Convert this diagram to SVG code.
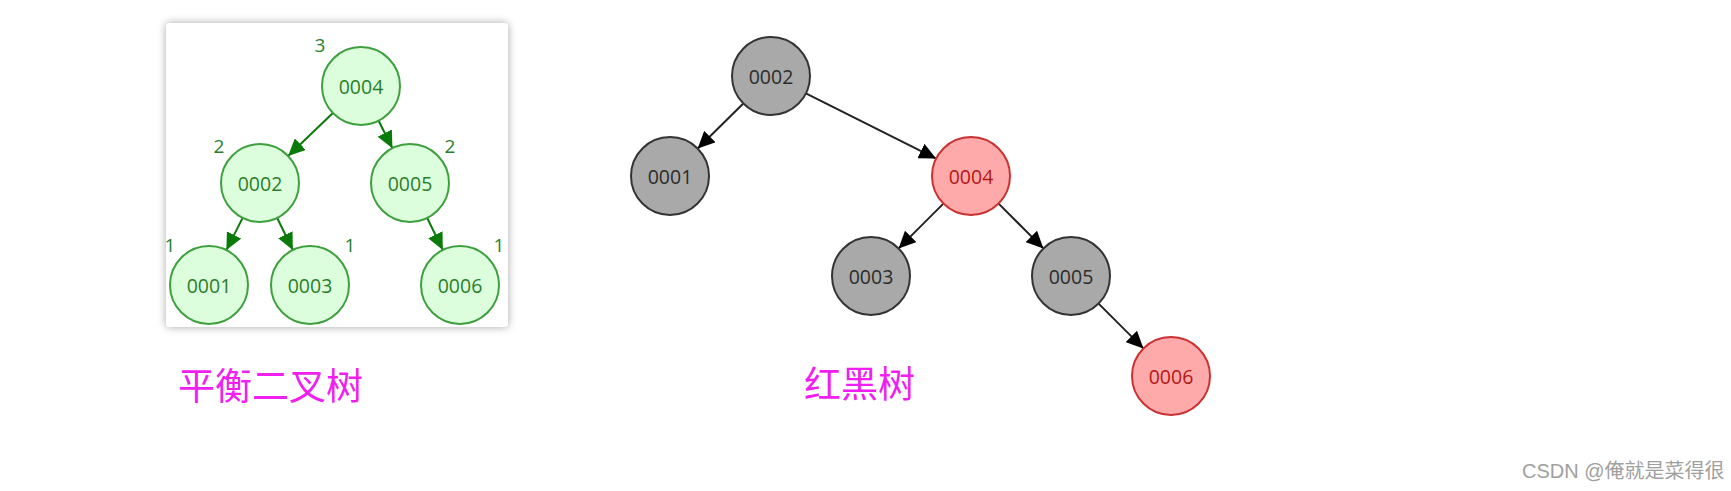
<svg xmlns="http://www.w3.org/2000/svg" width="1731" height="491" viewBox="0 0 1731 491">
  <defs>
    <filter id="shadow" x="-10%" y="-10%" width="120%" height="120%">
      <feDropShadow dx="0" dy="0" stdDeviation="4" flood-color="#000" flood-opacity="0.35"/>
    </filter>
    <marker id="arrG" markerUnits="userSpaceOnUse" markerWidth="18" markerHeight="16" refX="17" refY="8" orient="auto">
      <path d="M0,0 L17,8 L0,16 Z" fill="#0a7a0a"/>
    </marker>
    <marker id="arrK" markerUnits="userSpaceOnUse" markerWidth="18" markerHeight="16" refX="17" refY="8" orient="auto">
      <path d="M0,0 L17,8 L0,16 Z" fill="#000"/>
    </marker>
  </defs>
  <style>
    .avl circle { fill: #dcfedc; stroke: #3d9f3d; stroke-width: 2; }
    .avl text { fill: #2a7f2a; }
    .rb circle { fill: #a9a9a9; stroke: #333; stroke-width: 2; }
    .rb text { fill: #2b2b2b; }
    .rb.red circle { fill: #ffaaaa; stroke: #c83232; }
    .rb.red text { fill: #b01818; }
    text { font-family: "Open Sans", "Noto Sans", "Liberation Sans", sans-serif; }
    .nt { font-size: 19.5px; text-anchor: middle; dominant-baseline: central; }
    .ht { font-size: 19px; fill: #2a8a2a; text-anchor: middle; }
    .eg { stroke: #0a7a0a; stroke-width: 2; fill: none; marker-end: url(#arrG); }
    .ek { stroke: #222; stroke-width: 2; fill: none; marker-end: url(#arrK); }
    .title { font-family: "Noto Sans CJK SC", "Noto Sans", sans-serif; font-size: 37px; fill: #f01ef0; }
    .wm { font-family: "Liberation Sans", "Noto Sans CJK SC", sans-serif; font-size: 20px; fill: #a0a0a0; }
  </style>

  <rect x="166" y="23" width="342" height="304" rx="4" fill="#fff" filter="url(#shadow)"/>

  <g id="avl-edges">
    <line class="eg" x1="332.9" y1="113" x2="288.1" y2="156"/>
    <line class="eg" x1="378.6" y1="120.8" x2="392.4" y2="148.2"/>
    <line class="eg" x1="242.6" y1="217.9" x2="226.4" y2="250.1"/>
    <line class="eg" x1="277.2" y1="218" x2="292.8" y2="250"/>
    <line class="eg" x1="427.2" y1="218" x2="442.8" y2="250"/>
  </g>

  <g id="avl-0004" class="avl"><circle cx="361" cy="86" r="39"/><text class="nt" x="361" y="86">0004</text><text class="ht" x="320" y="52">3</text></g>
  <g id="avl-0002" class="avl"><circle cx="260" cy="183" r="39"/><text class="nt" x="260" y="183">0002</text><text class="ht" x="219" y="153">2</text></g>
  <g id="avl-0005" class="avl"><circle cx="410" cy="183" r="39"/><text class="nt" x="410" y="183">0005</text><text class="ht" x="450" y="153">2</text></g>
  <g id="avl-0001" class="avl"><circle cx="209" cy="285" r="39"/><text class="nt" x="209" y="285">0001</text><text class="ht" x="170" y="252">1</text></g>
  <g id="avl-0003" class="avl"><circle cx="310" cy="285" r="39"/><text class="nt" x="310" y="285">0003</text><text class="ht" x="350" y="252">1</text></g>
  <g id="avl-0006" class="avl"><circle cx="460" cy="285" r="39"/><text class="nt" x="460" y="285">0006</text><text class="ht" x="499" y="252">1</text></g>

  <g id="rb-edges">
    <line class="ek" x1="743.3" y1="103.5" x2="697.7" y2="148.5"/>
    <line class="ek" x1="805.9" y1="93.4" x2="936.1" y2="158.6"/>
    <line class="ek" x1="943.4" y1="203.6" x2="898.6" y2="248.4"/>
    <line class="ek" x1="998.6" y1="203.6" x2="1043.4" y2="248.4"/>
    <line class="ek" x1="1098.6" y1="303.6" x2="1143.4" y2="348.4"/>
  </g>

  <g id="rb-0002" class="rb"><circle cx="771" cy="76" r="39"/><text class="nt" x="771" y="76">0002</text></g>
  <g id="rb-0001" class="rb"><circle cx="670" cy="176" r="39"/><text class="nt" x="670" y="176">0001</text></g>
  <g id="rb-0004" class="rb red"><circle cx="971" cy="176" r="39"/><text class="nt" x="971" y="176">0004</text></g>
  <g id="rb-0003" class="rb"><circle cx="871" cy="276" r="39"/><text class="nt" x="871" y="276">0003</text></g>
  <g id="rb-0005" class="rb"><circle cx="1071" cy="276" r="39"/><text class="nt" x="1071" y="276">0005</text></g>
  <g id="rb-0006" class="rb red"><circle cx="1171" cy="376" r="39"/><text class="nt" x="1171" y="376">0006</text></g>

  <text class="title" x="178" y="400">平衡二叉树</text>
  <text class="title" x="804" y="398">红黑树</text>
  <text class="wm" x="1522" y="478">CSDN @俺就是菜得很</text>
</svg>
